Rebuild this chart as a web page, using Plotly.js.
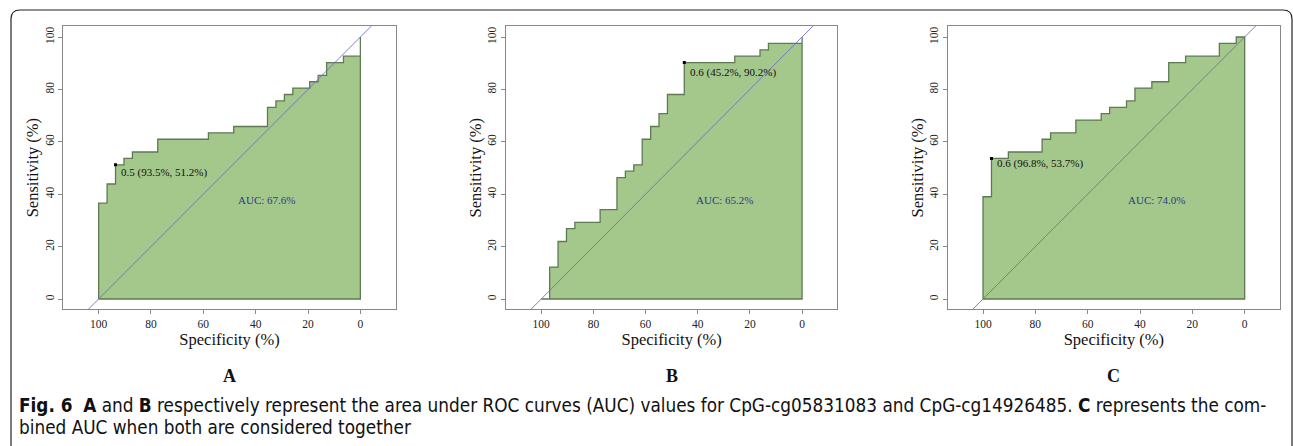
<!DOCTYPE html>
<html>
<head>
<meta charset="utf-8">
<script src="https://cdn.plot.ly/plotly-3.0.1.min.js"></script>
<style>html,body{margin:0;padding:0;background:#fff;}#chart{width:1293px;height:446px;}</style>
</head>
<body>
<div id="chart"></div>
<script>
// ROC step corners (specificity %, sensitivity %)
const specA = [100, 100, 96.77, 93.55, 90.32, 87.10, 77.42, 58.06, 48.39, 35.48, 32.26, 29.03, 25.81, 19.35, 16.13, 12.90, 6.45, 0];
const sensA = [0, 36.59, 43.90, 51.22, 53.66, 56.10, 60.98, 63.41, 65.85, 73.17, 75.61, 78.05, 80.49, 82.93, 85.37, 90.24, 92.68, 100];
const specB = [100, 96.77, 93.55, 90.32, 87.10, 77.42, 70.97, 67.74, 64.52, 61.29, 58.06, 54.84, 51.61, 45.16, 25.81, 16.13, 12.90, 0];
const sensB = [0, 12.20, 21.95, 26.83, 29.27, 34.15, 46.34, 48.78, 51.22, 60.98, 65.85, 70.73, 78.05, 90.24, 92.68, 95.12, 97.56, 100];
const specC = [100, 100, 96.77, 90.32, 77.42, 74.19, 64.52, 54.84, 51.61, 45.16, 41.94, 35.48, 29.03, 22.58, 9.68, 3.23, 0];
const sensC = [0, 39.02, 53.66, 56.10, 60.98, 63.41, 68.29, 70.73, 73.17, 75.61, 80.49, 82.93, 90.24, 92.68, 97.56, 100, 100];

// best thresholds
const thrLabels = ["0.5 (93.5%, 51.2%)", "0.6 (45.2%, 90.2%)", "0.6 (96.8%, 53.7%)"];
const thrSpec = [93.55, 45.16, 96.77];
const thrSens = [51.22, 90.24, 53.66];
const aucLabels = ["AUC: 67.6%", "AUC: 65.2%", "AUC: 74.0%"];
const panelLetters = ["A", "B", "C"];
const xTicks = [100, 80, 60, 40, 20, 0];
const yTicks = [0, 20, 40, 60, 80, 100];

const curves = [[specA, sensA], [specB, sensB], [specC, sensC]];

// layout geometry (pixels -> paper)
const W = 1293, H = 446;
const xDomPx = [[63.3, 395.7], [506, 837.3], [947.7, 1280]];
const yDomPx = [26, 309.3];
const thrTextPos = [[92.2, 48.1], [43.7, 86.6], [95.5, 51.6]];
const aucTextPos = [[47.4, 37.8], [41.5, 37.8], [45.5, 37.8]];

const serif = "Liberation Serif, Times New Roman, serif";
const traces = [];
const layout = {
  width: W, height: H,
  margin: {l: 0, r: 0, t: 0, b: 0},
  paper_bgcolor: "#ffffff", plot_bgcolor: "#ffffff",
  showlegend: false,
  annotations: [], shapes: []
};

curves.forEach((c, i) => {
  const sx = c[0], sy = c[1];
  const xs = [sx[0]], ys = [sy[0]];
  for (let k = 1; k < sx.length; k++) {
    xs.push(sx[k]); ys.push(sy[k - 1]);
    xs.push(sx[k]); ys.push(sy[k]);
  }
  xs.push(0); ys.push(0);
  xs.push(sx[0]); ys.push(0);
  const suf = i === 0 ? "" : String(i + 1);
  const xa = "x" + suf, ya = "y" + suf;
  traces.push({
    type: "scatter", mode: "lines", x: xs, y: ys, xaxis: xa, yaxis: ya,
    fill: "toself", fillcolor: "#a4c78b",
    line: {color: "#5d7a52", width: 1.3}, hoverinfo: "skip"
  });
  traces.push({
    type: "scatter", mode: "lines", x: [130, -30], y: [-30, 130], xaxis: xa, yaxis: ya,
    line: {color: "#6f6fc8", width: 0.9}, hoverinfo: "skip"
  });
  traces.push({
    type: "scatter", mode: "markers", x: [thrSpec[i]], y: [thrSens[i]], xaxis: xa, yaxis: ya,
    marker: {color: "#000000", size: 3, symbol: "square"}, hoverinfo: "skip"
  });
  const axX = {
    domain: [xDomPx[i][0] / W, xDomPx[i][1] / W],
    range: [113.5, -13.5], anchor: ya,
    showgrid: false, zeroline: false,
    showline: true, mirror: true, linecolor: "#888888", linewidth: 1,
    ticks: "outside", ticklen: 4, tickcolor: "#888888", tickwidth: 1,
    tickvals: xTicks, ticktext: xTicks.map(String),
    tickfont: {family: serif, size: 11.5, color: "#222222"},
    automargin: false,
    title: {text: "Specificity (%)", font: {family: serif, size: 16.5, color: "#111111"}, standoff: 4}
  };
  const axY = {
    domain: [1 - yDomPx[1] / H, 1 - yDomPx[0] / H],
    range: [-3.93, 104.2], anchor: xa,
    showgrid: false, zeroline: false,
    showline: true, mirror: true, linecolor: "#888888", linewidth: 1,
    ticks: "outside", ticklen: 4, tickcolor: "#888888", tickwidth: 1,
    tickvals: yTicks, ticktext: yTicks.map(String), tickangle: -90,
    tickfont: {family: serif, size: 11.5, color: "#222222"},
    automargin: false,
    title: {text: "Sensitivity (%)", font: {family: serif, size: 16.5, color: "#111111"}, standoff: 0}
  };
  layout["xaxis" + suf] = axX;
  layout["yaxis" + suf] = axY;
  layout.annotations.push({
    xref: xa, yref: ya, x: thrTextPos[i][0], y: thrTextPos[i][1],
    text: thrLabels[i], showarrow: false, xanchor: "left", yanchor: "middle",
    font: {family: serif, size: 11, color: "#111111"}
  });
  layout.annotations.push({
    xref: xa, yref: ya, x: aucTextPos[i][0], y: aucTextPos[i][1],
    text: aucLabels[i], showarrow: false, xanchor: "left", yanchor: "middle",
    font: {family: serif, size: 11, color: "#2b3a8e"}
  });
  layout.annotations.push({
    xref: "paper", yref: "paper", x: (xDomPx[i][0] + xDomPx[i][1]) / 2 / W, y: 1 - 376 / H,
    text: "<b>" + panelLetters[i] + "</b>", showarrow: false, xanchor: "center", yanchor: "middle",
    font: {family: serif, size: 18, color: "#111111"}
  });
});

// caption
const capFont = "DejaVu Sans Condensed, Liberation Sans, sans-serif";
layout.annotations.push({
  xref: "paper", yref: "paper", x: 17 / W, y: 1 - 405 / H, xanchor: "left", yanchor: "middle",
  showarrow: false, align: "left",
  text: "<b>Fig. 6</b>  <b>A</b> and <b>B</b> respectively represent the area under ROC curves (AUC) values for CpG-cg05831083 and CpG-cg14926485. <b>C</b> represents the com-",
  font: {family: capFont, size: 18.8, color: "#111111"}
});
layout.annotations.push({
  xref: "paper", yref: "paper", x: 17 / W, y: 1 - 427 / H, xanchor: "left", yanchor: "middle",
  showarrow: false, align: "left",
  text: "bined AUC when both are considered together",
  font: {family: capFont, size: 18.8, color: "#111111"}
});

// rounded outer frame
const Lx = 11 / W, Rx = 1292 / W, Ty = 1 - 10 / H, rx = 9 / W, ry = 9 / H;
layout.shapes.push({
  type: "path", xref: "paper", yref: "paper",
  path: `M ${Lx},0 L ${Lx},${Ty - ry} Q ${Lx},${Ty} ${Lx + rx},${Ty} L ${Rx - rx},${Ty} Q ${Rx},${Ty} ${Rx},${Ty - ry} L ${Rx},0`,
  line: {color: "#222222", width: 1.2}
});

Plotly.newPlot("chart", traces, layout, {displayModeBar: false, staticPlot: true});
</script>
</body>
</html>
